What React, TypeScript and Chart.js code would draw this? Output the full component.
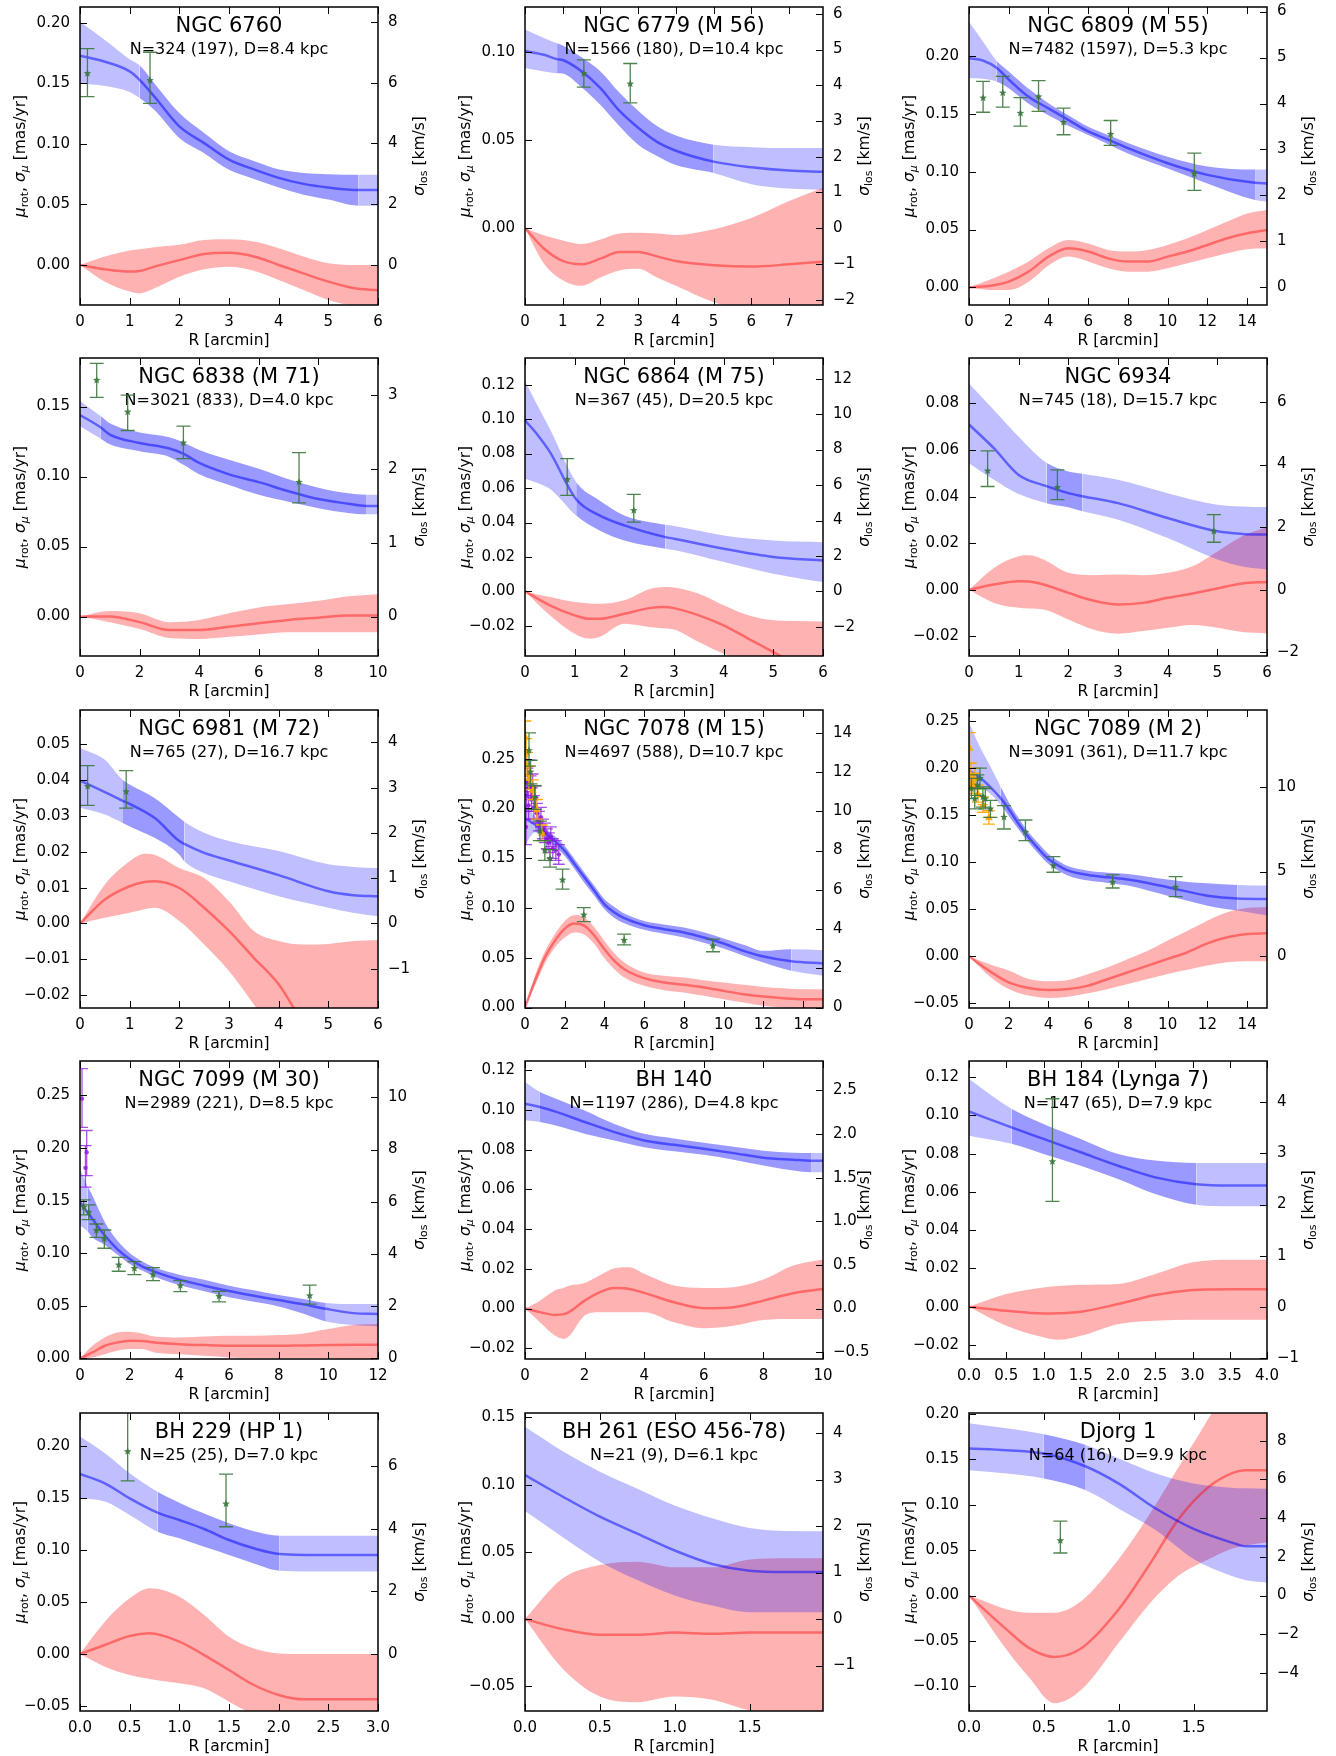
import React, { useEffect, useRef } from 'react';
import { Chart, registerables } from 'chart.js';

Chart.register(...registerables);

const FONT = '"DejaVu Sans", sans-serif';
// km/s per (mas/yr * kpc)
const K_PM = 4.74047;

// ---- velocity dispersion sigma_mu: [R, lower, median, upper] (mas/yr)
// ---- rotation mu_rot:               [R, lower, median, upper] (mas/yr)
// ---- line-of-sight dispersion:      [R, sigma_los, low, high] (km/s)

const sig6760 = [
  [0, 0.150, 0.173, 0.201], [0.5, 0.148, 0.168, 0.186], [1.0, 0.143, 0.160, 0.170],
  [1.2, 0.138, 0.153, 0.165], [1.5, 0.128, 0.139, 0.150], [2.0, 0.105, 0.1145, 0.1255],
  [2.5, 0.0924, 0.1007, 0.109], [3.0, 0.0786, 0.087, 0.094], [3.5, 0.071, 0.079, 0.086],
  [4.0, 0.064, 0.072, 0.079], [4.5, 0.058, 0.067, 0.076], [5.0, 0.054, 0.064, 0.075],
  [5.6, 0.049, 0.062, 0.0745], [6.0, 0.049, 0.062, 0.0745],
];
const rot6760 = [
  [0, 0, 0, 0], [0.5, -0.0138, -0.0036, 0.007], [1.0, -0.022, -0.0055, 0.012],
  [1.2, -0.0235, -0.005, 0.013], [1.5, -0.0193, -0.0014, 0.0146], [2.0, -0.0097, 0.004, 0.0166],
  [2.5, -0.0036, 0.009, 0.0207], [3.0, -0.0014, 0.010, 0.0212], [3.5, -0.0047, 0.007, 0.0193],
  [4.0, -0.0124, 0.0, 0.0138], [4.5, -0.0207, -0.007, 0.007], [5.0, -0.029, -0.0138, 0.0014],
  [5.5, -0.034, -0.019, 0.0], [6.0, -0.037, -0.021, 0.0],
];
const los6760 = [[0.15, 6.3, 5.54, 7.12], [1.41, 6.07, 5.32, 7.0]];

const sig6779 = [
  [0, 0.091, 0.1006, 0.1128], [0.5, 0.089, 0.0985, 0.108], [0.85, 0.088, 0.096, 0.105],
  [1.0, 0.0878, 0.0955, 0.1038], [1.5, 0.080, 0.0891, 0.097], [2.0, 0.0699, 0.0795, 0.089],
  [2.5, 0.058, 0.0667, 0.077], [3.0, 0.0474, 0.057, 0.0667], [3.5, 0.041, 0.049, 0.058],
  [4.0, 0.0359, 0.044, 0.0526], [5.0, 0.0314, 0.0378, 0.0474], [6.0, 0.025, 0.0346, 0.046],
  [7.0, 0.0225, 0.0327, 0.0455], [7.9, 0.0218, 0.032, 0.0455],
];
const rot6779 = [
  [0, 0, 0, 0], [0.5, -0.020, -0.0115, -0.004], [1.0, -0.0295, -0.0186, -0.007],
  [1.5, -0.0327, -0.0205, -0.009], [2.0, -0.028, -0.0173, -0.0064], [2.5, -0.024, -0.0135, -0.003],
  [3.0, -0.023, -0.0135, -0.0026], [3.5, -0.028, -0.016, -0.003], [4.0, -0.0327, -0.0186, -0.0038],
  [5.0, -0.042, -0.021, -0.0006], [6.0, -0.047, -0.0218, 0.0058], [7.0, -0.050, -0.0205, 0.0154],
  [7.9, -0.053, -0.019, 0.023],
];
const los6779 = [[1.56, 4.33, 3.95, 4.71], [2.79, 4.04, 3.51, 4.61]];

const sig6809 = [
  [0, 0.181, 0.1985, 0.230], [0.7, 0.1806, 0.1965, 0.213], [1.4, 0.178, 0.190, 0.196],
  [2, 0.1725, 0.180, 0.187], [3, 0.159, 0.165, 0.172], [4, 0.149, 0.155, 0.1595],
  [5, 0.140, 0.145, 0.149], [6, 0.132, 0.135, 0.139], [7, 0.124, 0.128, 0.132],
  [8, 0.116, 0.1205, 0.125], [10, 0.103, 0.1075, 0.113], [12, 0.090, 0.0974, 0.1046],
  [14.4, 0.0757, 0.0905, 0.102], [15, 0.0743, 0.090, 0.102],
];
const rot6809 = [
  [0, 0, 0, 0], [1, -0.0023, 0.0012, 0.0064], [2, -0.0023, 0.005, 0.0136],
  [3, 0.0049, 0.0136, 0.0223], [4, 0.019, 0.0266, 0.0338], [5, 0.0266, 0.0338, 0.041],
  [6, 0.0223, 0.031, 0.038], [7, 0.0165, 0.0251, 0.0324], [8, 0.0136, 0.0223, 0.031],
  [9, 0.0136, 0.0223, 0.0324], [10, 0.0165, 0.0266, 0.0367], [11, 0.0208, 0.031, 0.0425],
  [12, 0.0251, 0.0367, 0.0497], [13, 0.0295, 0.0425, 0.057], [14, 0.033, 0.0468, 0.064],
  [15, 0.0338, 0.0497, 0.067],
];
const los6809 = [
  [0.71, 4.12, 3.81, 4.48], [1.70, 4.23, 3.92, 4.59], [2.59, 3.79, 3.51, 4.13],
  [3.50, 4.15, 3.83, 4.50], [4.76, 3.59, 3.32, 3.90], [7.13, 3.33, 3.09, 3.63],
  [11.34, 2.47, 2.11, 2.92],
];

const sig6838 = [
  [0, 0.136, 0.144, 0.154], [0.7, 0.127, 0.135, 0.143], [1, 0.123, 0.130, 0.138],
  [2, 0.118, 0.124, 0.1315], [3, 0.114, 0.120, 0.128], [3.5, 0.108, 0.116, 0.124],
  [4, 0.1016, 0.1097, 0.119], [5, 0.094, 0.1016, 0.112], [6, 0.087, 0.096, 0.1056],
  [7, 0.082, 0.0895, 0.098], [8, 0.0774, 0.0839, 0.092], [9, 0.074, 0.0806, 0.088],
  [9.6, 0.073, 0.079, 0.087], [10, 0.073, 0.079, 0.087],
];
const rot6838 = [
  [0, 0, 0, 0], [1, -0.004, 0, 0.004], [2, -0.0089, -0.004, 0.0024],
  [3, -0.0153, -0.0097, -0.004], [4, -0.016, -0.0097, -0.0024], [5, -0.0145, -0.0073, 0.0024],
  [6, -0.0129, -0.0048, 0.0065], [7, -0.0113, -0.0024, 0.0089], [8, -0.0113, -0.0008, 0.0113],
  [9, -0.0113, 0.0008, 0.0145], [10, -0.0113, 0.0008, 0.016],
];
const los6838 = [[0.56, 3.2, 2.97, 3.43], [1.6, 2.77, 2.52, 3.0], [3.47, 2.35, 2.14, 2.58], [7.35, 1.82, 1.54, 2.22]];

const sig6864 = [
  [0, 0.0654, 0.0993, 0.122], [0.25, 0.063, 0.091, 0.108], [0.5, 0.0596, 0.081, 0.0944],
  [1.03, 0.0441, 0.0535, 0.0635], [1.5, 0.0354, 0.0441, 0.0528], [2, 0.0296, 0.0383, 0.0441],
  [2.83, 0.0248, 0.0315, 0.0387], [3, 0.024, 0.0306, 0.038], [4, 0.017, 0.0248, 0.0325],
  [5, 0.0103, 0.020, 0.0296], [6, 0.0054, 0.018, 0.0286],
];
const rot6864 = [
  [0, 0, 0, 0], [0.5, -0.0139, -0.0081, -0.0033], [1, -0.0246, -0.0139, -0.0062],
  [1.3, -0.0275, -0.0159, -0.007], [1.5, -0.0265, -0.0159, -0.0072], [2, -0.0188, -0.013, -0.0052],
  [2.5, -0.0207, -0.0097, 0.0012], [2.8, -0.0215, -0.0091, 0.0025], [3.0, -0.0221, -0.0097, 0.0023],
  [3.5, -0.0294, -0.0139, -0.0014], [4, -0.0362, -0.0197, -0.0081], [4.5, -0.041, -0.0275, -0.0139],
  [5, -0.045, -0.0352, -0.0168], [5.5, -0.05, -0.043, -0.0172], [6, -0.055, -0.05, -0.0174],
];
const los6864 = [[0.85, 6.32, 5.42, 7.49], [2.19, 4.57, 3.91, 5.47]];

const sig6934 = [
  [0, 0.0543, 0.071, 0.0886], [0.5, 0.0472, 0.0608, 0.0772], [1, 0.0411, 0.0493, 0.0657],
  [1.56, 0.0372, 0.0445, 0.0545], [2, 0.0354, 0.0415, 0.0508], [2.28, 0.0337, 0.0402, 0.0498],
  [3, 0.0301, 0.0372, 0.0472], [4, 0.0222, 0.0308, 0.0415], [5, 0.013, 0.0251, 0.0365],
  [5.5, 0.0100, 0.024, 0.0358], [6, 0.0087, 0.0237, 0.0355],
];
const rot6934 = [
  [0, 0, 0, 0], [0.5, -0.0056, 0.0023, 0.0094], [1, -0.0077, 0.0037, 0.0144],
  [1.2, -0.008, 0.0036, 0.0148], [1.5, -0.0084, 0.0023, 0.013], [2, -0.0127, -0.0013, 0.0073],
  [2.5, -0.017, -0.0046, 0.0063], [3, -0.0188, -0.0063, 0.0066], [3.5, -0.0177, -0.0056, 0.0063],
  [4, -0.0163, -0.0034, 0.0073], [4.5, -0.0151, -0.0016, 0.0101], [5, -0.0163, 0.0006, 0.0165],
  [5.5, -0.0181, 0.0027, 0.023], [6, -0.0187, 0.0034, 0.027],
];
const los6934 = [[0.375, 3.8, 3.30, 4.44], [1.78, 3.27, 2.88, 3.83], [4.93, 1.87, 1.52, 2.40]];

const sig6981 = [
  [0, 0.0323, 0.0399, 0.049], [0.5, 0.0304, 0.0367, 0.0457], [0.85, 0.0281, 0.0343, 0.0402],
  [1, 0.0271, 0.0334, 0.0388], [1.5, 0.0239, 0.0295, 0.035], [2, 0.0192, 0.023, 0.0295],
  [2.1, 0.0174, 0.0222, 0.0284], [2.5, 0.0141, 0.0197, 0.0253], [3, 0.0118, 0.0176, 0.023],
  [4, 0.0076, 0.0135, 0.0202], [5, 0.0044, 0.009, 0.0165], [5.5, 0.003, 0.0079, 0.0158],
  [6, 0.002, 0.0076, 0.0155],
];
const rot6981 = [
  [0, 0, 0, 0], [0.5, 0.0016, 0.0067, 0.0109], [1, 0.003, 0.0104, 0.0174],
  [1.3, 0.004, 0.0116, 0.0195], [1.5, 0.0044, 0.0118, 0.0192], [2, 0.0007, 0.0099, 0.0155],
  [2.5, -0.0059, 0.0044, 0.0127], [3, -0.0133, -0.0021, 0.0062], [3.5, -0.0226, -0.0096, -0.0021],
  [4, -0.032, -0.017, -0.0049], [4.5, -0.041, -0.028, -0.0059], [5, -0.05, -0.037, -0.0057],
  [5.5, -0.058, -0.045, -0.0049], [6, -0.065, -0.053, -0.0046],
];
const los6981 = [[0.154, 3.03, 2.61, 3.49], [0.93, 2.91, 2.55, 3.38]];

const sig7078 = [
  [0, 0.163, 0.19, 0.205], [0.5, 0.176, 0.184, 0.192], [1, 0.1707, 0.1757, 0.1807],
  [1.5, 0.162, 0.1673, 0.172], [2, 0.1523, 0.1573, 0.1623], [2.5, 0.139, 0.144, 0.149],
  [3, 0.1248, 0.1305, 0.1355], [3.5, 0.112, 0.117, 0.122], [4, 0.0987, 0.1037, 0.1088],
  [4.5, 0.090, 0.0954, 0.101], [5, 0.0847, 0.0897, 0.0944], [6, 0.078, 0.0827, 0.087],
  [7, 0.074, 0.0787, 0.0835], [8, 0.0703, 0.0753, 0.0803], [9, 0.065, 0.0703, 0.0755],
  [10, 0.0592, 0.0643, 0.0693], [11, 0.0520, 0.0569, 0.063], [12, 0.0452, 0.0512, 0.0569],
  [13.4, 0.0368, 0.0465, 0.0586], [15, 0.0318, 0.0442, 0.0576],
];
const rot7078 = [
  [0, 0, 0, 0], [0.5, 0.0218, 0.0268, 0.0318], [1, 0.0442, 0.0502, 0.0562],
  [1.5, 0.0602, 0.0669, 0.0736], [2, 0.0703, 0.0793, 0.087], [2.5, 0.0753, 0.0843, 0.093],
  [3, 0.073, 0.082, 0.0904], [3.5, 0.0636, 0.072, 0.0803], [4, 0.0495, 0.0586, 0.0669],
  [4.5, 0.0385, 0.0469, 0.0545], [5, 0.0301, 0.0385, 0.0452], [6, 0.0218, 0.0295, 0.0351],
  [7, 0.0174, 0.0251, 0.0318], [8, 0.0151, 0.0228, 0.0301], [9, 0.0117, 0.0201, 0.0274],
  [10, 0.0084, 0.0167, 0.0251], [11, 0.005, 0.0134, 0.0228], [12, 0.0017, 0.011, 0.0207],
  [13, 0.0, 0.0094, 0.0194], [14, -0.0017, 0.0084, 0.0184], [15, -0.0027, 0.0084, 0.0184],
];
const los7078 = [
  [0.2, 13.1, 12.3, 14.0], [0.28, 12.0, 11.4, 12.6], [0.49, 10.7, 10.1, 11.3],
  [0.75, 9.0, 8.5, 9.5], [1.0, 8.0, 7.5, 8.5], [1.26, 7.6, 7.15, 8.05],
  [1.89, 6.5, 6.03, 7.05], [2.96, 4.72, 4.38, 5.09], [4.99, 3.43, 3.19, 3.74],
  [9.46, 3.14, 2.84, 3.48],
];
// [R, sigma, low, high, R half-width]
const vio7078 = [
  [0.05, 9.2, 8.3, 10.1, 0.05], [0.08, 10.8, 10.0, 11.6, 0.08], [0.12, 11.5, 10.8, 12.2, 0.1],
  [0.18, 10.3, 9.6, 11.0, 0.1], [0.22, 11.9, 11.2, 12.6, 0.12], [0.28, 11.2, 10.6, 11.8, 0.12],
  [0.33, 10.6, 10.0, 11.2, 0.12], [0.38, 11.3, 10.7, 11.9, 0.12], [0.45, 10.2, 9.6, 10.8, 0.12],
  [0.52, 10.7, 10.1, 11.3, 0.12], [0.6, 9.9, 9.4, 10.4, 0.12], [0.7, 9.5, 9.0, 10.0, 0.12],
  [0.8, 9.7, 9.2, 10.2, 0.12], [0.9, 9.1, 8.6, 9.6, 0.12], [1.0, 8.9, 8.4, 9.4, 0.12],
  [1.1, 8.6, 8.1, 9.1, 0.12], [1.2, 8.4, 7.9, 8.9, 0.12], [1.3, 8.7, 8.2, 9.2, 0.12],
  [1.4, 8.1, 7.6, 8.6, 0.12], [1.55, 8.0, 7.5, 8.5, 0.12], [1.7, 7.8, 7.3, 8.3, 0.12],
];
const org7078 = [
  [0.02, 13.8, 13.0, 14.6, 0.02], [0.06, 13.0, 12.3, 13.7, 0.05], [0.1, 12.4, 11.8, 13.0, 0.08],
  [0.2, 11.7, 11.1, 12.3, 0.1], [0.4, 11.1, 10.6, 11.6, 0.12], [0.6, 10.1, 9.6, 10.6, 0.15],
  [0.85, 8.9, 8.5, 9.3, 0.15],
];

const sig7089 = [
  [0, 0.178, 0.1975, 0.249], [0.5, 0.180, 0.191, 0.225], [1.0, 0.174, 0.1816, 0.205],
  [1.6, 0.161, 0.168, 0.180], [2, 0.1496, 0.1567, 0.164], [2.5, 0.135, 0.1408, 0.147],
  [3, 0.1213, 0.1266, 0.1319], [3.5, 0.109, 0.1142, 0.12], [4, 0.0982, 0.1035, 0.1089],
  [4.5, 0.091, 0.0965, 0.1015], [5, 0.0858, 0.0911, 0.0957], [6, 0.0805, 0.0865, 0.0911],
  [7, 0.078, 0.084, 0.089], [8, 0.0752, 0.0816, 0.0876], [9, 0.070, 0.078, 0.0846],
  [10, 0.0645, 0.0734, 0.0816], [11, 0.059, 0.0688, 0.079], [12, 0.0539, 0.0645, 0.0777],
  [13.5, 0.0486, 0.0615, 0.0759], [15, 0.0433, 0.061, 0.0752],
];
const rot7089 = [
  [0, 0, 0, 0], [1, -0.0206, -0.0152, -0.0082], [2, -0.0348, -0.0277, -0.0152],
  [3, -0.0418, -0.0337, -0.0241], [4, -0.0443, -0.0358, -0.0266], [5, -0.0429, -0.0348, -0.0252],
  [6, -0.0394, -0.0312, -0.0188], [7, -0.0348, -0.0241, -0.0117], [8, -0.0294, -0.017, -0.0028],
  [9, -0.0241, -0.0099, 0.006], [10, -0.0188, -0.0028, 0.0167], [11, -0.0142, 0.0043, 0.0273],
  [12, -0.0099, 0.0138, 0.0379], [13, -0.0064, 0.0202, 0.0468], [14, -0.0053, 0.0238, 0.0514],
  [15, -0.0053, 0.0245, 0.0521],
];
const los7089 = [
  [0.12, 9.9, 9.3, 10.5], [0.29, 9.3, 8.7, 9.9], [0.42, 10.1, 9.5, 10.7],
  [0.55, 10.5, 9.9, 11.1], [0.7, 9.4, 8.8, 10.0], [0.82, 9.3, 8.7, 9.9],
  [1.08, 8.7, 8.2, 9.2], [1.76, 8.2, 7.51, 8.89], [2.84, 7.32, 6.82, 8.04],
  [4.25, 5.35, 4.96, 5.88], [7.23, 4.37, 4.03, 4.80], [10.4, 4.07, 3.52, 4.70],
];
const org7089 = [
  [0.03, 12.3, 11.4, 13.2, 0.03], [0.1, 10.7, 10.0, 11.4, 0.1], [0.2, 10.2, 9.6, 10.8, 0.15],
  [0.3, 10.5, 9.9, 11.1, 0.2], [0.45, 9.6, 9.1, 10.1, 0.2], [0.7, 8.95, 8.5, 9.4, 0.25],
  [1.0, 8.2, 7.8, 8.6, 0.3],
];

const sig7099 = [
  [0, 0.1263, 0.1485, 0.180], [0.3, 0.121, 0.139, 0.164], [0.5, 0.1152, 0.1326, 0.1548],
  [1, 0.1079, 0.1168, 0.1294], [1.5, 0.0987, 0.104, 0.112], [2, 0.0898, 0.0945, 0.1003],
  [2.5, 0.0835, 0.0876, 0.0925], [3, 0.078, 0.0825, 0.0866], [4, 0.0698, 0.0749, 0.0796],
  [5, 0.0638, 0.0692, 0.0749], [6, 0.0581, 0.0641, 0.0692], [7, 0.0538, 0.0596, 0.0648],
  [8, 0.0495, 0.0555, 0.0603], [9, 0.0425, 0.0514, 0.0565], [9.9, 0.0352, 0.0472, 0.0527],
  [11, 0.0317, 0.0431, 0.0517], [12, 0.0305, 0.0422, 0.0517],
];
const rot7099 = [
  [0, 0, 0, 0], [0.5, 0.001, 0.0057, 0.0121], [1, 0.0041, 0.0121, 0.02],
  [1.5, 0.0073, 0.0152, 0.0247], [2, 0.0089, 0.0168, 0.0254], [2.5, 0.0089, 0.0165, 0.0238],
  [3, 0.0057, 0.0152, 0.0209], [4, 0.0041, 0.0136, 0.02], [5, 0.0025, 0.0127, 0.0209],
  [6, 0.001, 0.0121, 0.0216], [7, 0.0003, 0.0121, 0.0216], [8, 0.0003, 0.0121, 0.0222],
  [9, 0.0003, 0.0124, 0.0238], [10, 0.0, 0.0127, 0.0279], [11, -0.0005, 0.013, 0.0317],
  [12, -0.0005, 0.013, 0.0327],
];
const los7099 = [
  [0.15, 5.79, 5.5, 6.07], [0.35, 5.6, 5.32, 5.88], [0.66, 4.9, 4.64, 5.15],
  [0.98, 4.58, 4.22, 4.92], [1.56, 3.58, 3.34, 3.87], [2.19, 3.45, 3.21, 3.71],
  [2.94, 3.21, 2.98, 3.48], [4.04, 2.79, 2.56, 2.98], [5.6, 2.38, 2.17, 2.57],
  [9.25, 2.40, 2.08, 2.81],
];
const vio7099 = [[0.08, 9.95, 8.85, 11.1, 0], [0.22, 7.3, 6.56, 8.15, 0], [0.27, 7.9, 7.0, 8.73, 0]];

const sigBH140 = [
  [0, 0.0948, 0.1032, 0.1141], [0.5, 0.094, 0.1015, 0.1091], [1, 0.0923, 0.0993, 0.106],
  [2, 0.0881, 0.094, 0.0998], [3, 0.0847, 0.0889, 0.093], [4, 0.0813, 0.0847, 0.088],
  [5, 0.0792, 0.0825, 0.0857], [6, 0.0775, 0.0805, 0.0835], [7, 0.075, 0.0783, 0.0815],
  [8, 0.0721, 0.076, 0.0795], [9, 0.0696, 0.075, 0.0785], [9.6, 0.0687, 0.0745, 0.0783],
  [10, 0.0687, 0.0745, 0.0783],
];
const rotBH140 = [
  [0, 0, 0, 0], [0.5, -0.0069, -0.0018, 0.004], [1, -0.0136, -0.0032, 0.0091],
  [1.3, -0.0153, -0.0028, 0.0105], [1.5, -0.0136, -0.0015, 0.0116], [2, -0.0035, 0.004, 0.0129],
  [2.5, -0.0018, 0.0082, 0.0166], [3, -0.0018, 0.0103, 0.0203], [3.5, -0.0018, 0.0099, 0.0208],
  [4, -0.0018, 0.0079, 0.0175], [5, -0.0069, 0.0032, 0.0116], [6, -0.0099, 0.0002, 0.0104],
  [7, -0.0086, 0.0007, 0.0108], [8, -0.0057, 0.004, 0.0146], [9, -0.0052, 0.0077, 0.0217],
  [10, -0.0052, 0.0099, 0.0247],
];

const sigBH184 = [
  [0, 0.0894, 0.102, 0.119], [0.57, 0.0851, 0.0937, 0.1034], [1, 0.0798, 0.0877, 0.0955],
  [1.5, 0.0737, 0.0807, 0.0877], [2, 0.0668, 0.0737, 0.0798], [2.5, 0.0589, 0.0676, 0.0764],
  [3.05, 0.0533, 0.064, 0.0751], [3.5, 0.0525, 0.0633, 0.0751], [4, 0.0525, 0.0633, 0.0751],
];
const rotBH184 = [
  [0, 0, 0, 0], [0.5, -0.0099, -0.0021, 0.0066], [1, -0.016, -0.0035, 0.0101],
  [1.2, -0.0173, -0.0034, 0.0108], [1.5, -0.0152, -0.0026, 0.0115], [2, -0.0091, 0.0014, 0.0119],
  [2.5, -0.0073, 0.0061, 0.0171], [3, -0.0068, 0.0087, 0.0232], [3.5, -0.0068, 0.0092, 0.0246],
  [4, -0.0068, 0.0092, 0.0246],
];
const losBH184 = [[1.12, 2.84, 2.06, 4.07]];

const sigBH229 = [
  [0, 0.1497, 0.1731, 0.209], [0.25, 0.1465, 0.1641, 0.193], [0.5, 0.1337, 0.1497, 0.1737],
  [0.78, 0.1176, 0.1360, 0.156], [1, 0.1112, 0.1288, 0.1455], [1.25, 0.103, 0.1202, 0.135],
  [1.5, 0.0952, 0.1096, 0.1256], [1.75, 0.087, 0.1016, 0.118], [2.01, 0.0801, 0.0962, 0.1138],
  [2.5, 0.0792, 0.0952, 0.1138], [3, 0.0792, 0.0952, 0.1138],
];
const rotBH229 = [
  [0, 0, 0, 0], [0.25, -0.0122, 0.0087, 0.0311], [0.5, -0.0202, 0.0173, 0.0535],
  [0.7, -0.024, 0.0199, 0.0631], [1, -0.0282, 0.0119, 0.0551], [1.25, -0.033, -0.001, 0.0375],
  [1.5, -0.0458, -0.0154, 0.0167], [1.75, -0.0587, -0.0298, 0.0054], [2, -0.07, -0.0394, 0.0006],
  [2.25, -0.075, -0.0436, 0.0], [2.5, -0.075, -0.0436, 0.0], [3, -0.075, -0.0436, 0.0],
];
const losBH229 = [[0.48, 6.46, 5.52, 8.0], [1.47, 4.79, 4.06, 5.74]];

const sigBH261 = [
  [0, 0.0803, 0.1071, 0.143], [0.25, 0.061, 0.0912, 0.125], [0.5, 0.0427, 0.0762, 0.1096],
  [0.75, 0.029, 0.0636, 0.097], [1, 0.0176, 0.051, 0.0845], [1.25, 0.010, 0.041, 0.075],
  [1.5, 0.005, 0.036, 0.0678], [1.75, 0.005, 0.0351, 0.0655], [1.99, 0.005, 0.0351, 0.0653],
];
const rotBH261 = [
  [0, 0, 0, 0], [0.25, -0.0368, -0.0075, 0.0301], [0.5, -0.0577, -0.0117, 0.0402],
  [0.75, -0.0619, -0.0117, 0.0427], [1, -0.0577, -0.01, 0.0385], [1.25, -0.060, -0.011, 0.0385],
  [1.5, -0.0678, -0.010, 0.0444], [1.75, -0.070, -0.010, 0.0452], [1.99, -0.070, -0.010, 0.0452],
];

const sigDjorg1 = [
  [0, 0.1379, 0.1619, 0.1895], [0.25, 0.1342, 0.160, 0.184], [0.5, 0.1287, 0.1563, 0.1774],
  [0.78, 0.1158, 0.142, 0.1656], [1, 0.0955, 0.1232, 0.1508], [1.25, 0.0715, 0.0955, 0.1342],
  [1.5, 0.0402, 0.0734, 0.1232], [1.75, 0.0218, 0.0586, 0.1187], [1.85, 0.017, 0.0542, 0.118],
  [1.99, 0.0144, 0.0542, 0.1176],
];
const rotDjorg1 = [
  [0, 0, 0, 0], [0.1, -0.024, -0.0151, -0.006], [0.25, -0.0594, -0.0372, -0.0151],
  [0.4, -0.09, -0.0575, -0.019], [0.57, -0.1184, -0.0675, -0.0188], [0.75, -0.1036, -0.058, -0.0059],
  [1, -0.052, -0.0151, 0.0402], [1.2, -0.01, 0.0328, 0.0881], [1.4, 0.022, 0.0844, 0.1416],
  [1.6, 0.040, 0.1195, 0.195], [1.75, 0.0513, 0.1342, 0.24], [1.85, 0.055, 0.1379, 0.255],
  [1.99, 0.0586, 0.1379, 0.26],
];
const losDjorg1 = [[0.61, 2.84, 2.2, 3.84]];

type ErrSet = { rows: number[][]; kind: 'star' | 'tri' | 'dot' };
type Panel = {
  title: string; n: number; nIn: number; dist: number;
  xMax: number; xStep: number; xDec: number;
  yMin: number; yMax: number; yStep: number;
  kStep: number; kDec: number;
  dark: number[] | null;
  sigma: number[][]; rot: number[][]; err: ErrSet[];
};

const star = (rows: number[][]): ErrSet => ({ rows, kind: 'star' });

const PANELS: Panel[] = [
  { title: 'NGC 6760', n: 324, nIn: 197, dist: 8.4, xMax: 6, xStep: 1, xDec: 0, yMin: -0.0331, yMax: 0.2132, yStep: 0.05, kStep: 2, kDec: 0, dark: [1.2, 5.6], sigma: sig6760, rot: rot6760, err: [star(los6760)] },
  { title: 'NGC 6779 (M 56)', n: 1566, nIn: 180, dist: 10.4, xMax: 7.9, xStep: 1, xDec: 0, yMin: -0.0436, yMax: 0.1256, yStep: 0.05, kStep: 1, kDec: 0, dark: [0.85, 5.0], sigma: sig6779, rot: rot6779, err: [star(los6779)] },
  { title: 'NGC 6809 (M 55)', n: 7482, nIn: 1597, dist: 5.3, xMax: 15, xStep: 2, xDec: 0, yMin: -0.0153, yMax: 0.2428, yStep: 0.05, kStep: 1, kDec: 0, dark: [1.4, 14.4], sigma: sig6809, rot: rot6809, err: [star(los6809)] },
  { title: 'NGC 6838 (M 71)', n: 3021, nIn: 833, dist: 4.0, xMax: 10, xStep: 2, xDec: 0, yMin: -0.0282, yMax: 0.1847, yStep: 0.05, kStep: 1, kDec: 0, dark: [0.7, 9.6], sigma: sig6838, rot: rot6838, err: [star(los6838)] },
  { title: 'NGC 6864 (M 75)', n: 367, nIn: 45, dist: 20.5, xMax: 6, xStep: 1, xDec: 0, yMin: -0.0375, yMax: 0.1355, yStep: 0.02, kStep: 2, kDec: 0, dark: [1.03, 2.83], sigma: sig6864, rot: rot6864, err: [star(los6864)] },
  { title: 'NGC 6934', n: 745, nIn: 18, dist: 15.7, xMax: 6, xStep: 1, xDec: 0, yMin: -0.0284, yMax: 0.0995, yStep: 0.02, kStep: 2, kDec: 0, dark: [1.56, 2.28], sigma: sig6934, rot: rot6934, err: [star(los6934)] },
  { title: 'NGC 6981 (M 72)', n: 765, nIn: 27, dist: 16.7, xMax: 6, xStep: 1, xDec: 0, yMin: -0.0236, yMax: 0.0596, yStep: 0.01, kStep: 1, kDec: 0, dark: [0.85, 2.1], sigma: sig6981, rot: rot6981, err: [star(los6981)] },
  { title: 'NGC 7078 (M 15)', n: 4697, nIn: 588, dist: 10.7, xMax: 15, xStep: 2, xDec: 0, yMin: -0.0005, yMax: 0.2989, yStep: 0.05, kStep: 2, kDec: 0, dark: [0.5, 13.4], sigma: sig7078, rot: rot7078, err: [{ rows: vio7078, kind: 'dot' }, { rows: org7078, kind: 'tri' }, star(los7078)] },
  { title: 'NGC 7089 (M 2)', n: 3091, nIn: 361, dist: 11.7, xMax: 15, xStep: 2, xDec: 0, yMin: -0.055, yMax: 0.262, yStep: 0.05, kStep: 5, kDec: 0, dark: [1.6, 13.5], sigma: sig7089, rot: rot7089, err: [{ rows: org7089, kind: 'tri' }, star(los7089)] },
  { title: 'NGC 7099 (M 30)', n: 2989, nIn: 221, dist: 8.5, xMax: 12, xStep: 2, xDec: 0, yMin: -0.0005, yMax: 0.2827, yStep: 0.05, kStep: 2, kDec: 0, dark: [0.3, 9.9], sigma: sig7099, rot: rot7099, err: [{ rows: vio7099, kind: 'dot' }, star(los7099)] },
  { title: 'BH 140', n: 1197, nIn: 286, dist: 4.8, xMax: 10, xStep: 2, xDec: 0, yMin: -0.0254, yMax: 0.1247, yStep: 0.02, kStep: 0.5, kDec: 1, dark: [0.5, 9.6], sigma: sigBH140, rot: rotBH140, err: [] },
  { title: 'BH 184 (Lynga 7)', n: 147, nIn: 65, dist: 7.9, xMax: 4, xStep: 0.5, xDec: 1, yMin: -0.0273, yMax: 0.1284, yStep: 0.02, kStep: 1, kDec: 0, dark: [0.57, 3.05], sigma: sigBH184, rot: rotBH184, err: [star(losBH184)] },
  { title: 'BH 229 (HP 1)', n: 25, nIn: 25, dist: 7.0, xMax: 3, xStep: 0.5, xDec: 1, yMin: -0.0548, yMax: 0.2317, yStep: 0.05, kStep: 2, kDec: 0, dark: [0.78, 2.01], sigma: sigBH229, rot: rotBH229, err: [star(losBH229)] },
  { title: 'BH 261 (ESO 456-78)', n: 21, nIn: 9, dist: 6.1, xMax: 1.99, xStep: 0.5, xDec: 1, yMin: -0.0684, yMax: 0.1533, yStep: 0.05, kStep: 1, kDec: 0, dark: null, sigma: sigBH261, rot: rotBH261, err: [] },
  { title: 'Djorg 1', n: 64, nIn: 16, dist: 9.9, xMax: 1.99, xStep: 0.5, xDec: 1, yMin: -0.127, yMax: 0.2009, yStep: 0.05, kStep: 2, kDec: 0, dark: [0.5, 0.78], sigma: sigDjorg1, rot: rotDjorg1, err: [star(losDjorg1)] },
];

// panel geometry (px)
const CANVAS_W = 445;
const CANVAS_H = 363;
const PAD_TOP = 19;
const AXIS_LEFT = 80;
const AXIS_RIGHT = 67;
const AXIS_BOTTOM = 46;
const COL_X = [0, 445, 889];
const ROW_PLOT_TOP = [7, 358, 710, 1061, 1413];

const BLUE_LIGHT = 'rgba(0,0,255,0.25)';
const BLUE_DARK = 'rgba(0,0,255,0.40)';
const RED_BAND = 'rgba(255,0,0,0.30)';
const BLUE_LINE = 'rgba(0,0,255,0.5)';
const RED_LINE = 'rgba(255,0,0,0.42)';
const ERR_COLORS = { star: 'rgba(60,120,60,0.9)', dot: 'rgba(140,20,220,0.75)', tri: 'rgba(255,165,0,0.95)' };

function fmt(v: number, d: number) {
  const r = Math.abs(v) < 1e-9 ? 0 : v;
  const s = Math.abs(r).toFixed(d);
  return r < 0 ? '\u2212' + s : s;
}

const pts = (rows: number[][], col: number) => rows.map((r) => ({ x: r[0], y: r[col] }));

function buildDatasets(p: Panel) {
  const base = {
    pointRadius: 0, borderWidth: 0, borderColor: 'rgba(0,0,0,0)', tension: 0.4,
    cubicInterpolationMode: 'monotone', xAxisID: 'x', yAxisID: 'y', clip: 0,
  };
  const inDark = (c: any) =>
    !!p.dark && c.p0.parsed.x >= p.dark[0] - 1e-9 && c.p1.parsed.x <= p.dark[1] + 1e-9;
  return [
    { ...base, data: pts(p.rot, 1), fill: false, order: 10 },
    { ...base, data: pts(p.rot, 3), fill: '-1', backgroundColor: RED_BAND, order: 10 },
    { ...base, data: pts(p.sigma, 1), fill: false, order: 9 },
    {
      ...base, data: pts(p.sigma, 3), fill: '-1', backgroundColor: BLUE_LIGHT, order: 9,
      segment: { backgroundColor: (c: any) => (inDark(c) ? BLUE_DARK : BLUE_LIGHT) },
    },
    { ...base, data: pts(p.rot, 2), fill: false, borderWidth: 2.5, borderColor: RED_LINE, order: 8 },
    { ...base, data: pts(p.sigma, 2), fill: false, borderWidth: 2.5, borderColor: BLUE_LINE, order: 7 },
  ];
}

type Part = { t: string; it?: boolean; sub?: boolean };

function drawVerticalLabel(ctx: CanvasRenderingContext2D, parts: Part[], x: number, y: number) {
  const size = 15.5;
  const fontOf = (p: Part) => `${p.it ? 'italic ' : ''}${p.sub ? 11 : size}px ${FONT}`;
  ctx.save();
  ctx.translate(x, y);
  ctx.rotate(-Math.PI / 2);
  ctx.fillStyle = '#000';
  ctx.textAlign = 'left';
  ctx.textBaseline = 'alphabetic';
  const widths = parts.map((p) => { ctx.font = fontOf(p); return ctx.measureText(p.t).width; });
  let cx = -widths.reduce((a, b) => a + b, 0) / 2;
  parts.forEach((p, i) => {
    ctx.font = fontOf(p);
    ctx.fillText(p.t, cx, p.sub ? 3 : 0);
    cx += widths[i];
  });
  ctx.restore();
}

function drawMarker(ctx: CanvasRenderingContext2D, kind: string, x: number, y: number) {
  ctx.beginPath();
  if (kind === 'star') {
    for (let i = 0; i < 10; i++) {
      const r = i % 2 === 0 ? 4 : 1.8;
      const a = -Math.PI / 2 + (i * Math.PI) / 5;
      ctx.lineTo(x + r * Math.cos(a), y + r * Math.sin(a));
    }
  } else if (kind === 'tri') {
    ctx.moveTo(x, y - 4);
    ctx.lineTo(x + 3.8, y + 3);
    ctx.lineTo(x - 3.8, y + 3);
  } else {
    ctx.arc(x, y, 2.2, 0, Math.PI * 2);
  }
  ctx.closePath();
  ctx.fill();
}

function panelPlugin(p: Panel) {
  return {
    id: 'panelDecor',
    afterDatasetsDraw(chart: any) {
      const { ctx, chartArea: a } = chart;
      const xs = chart.scales.x;
      const ks = chart.scales.y2;
      const cx = (a.left + a.right) / 2;
      ctx.save();
      ctx.fillStyle = '#000';
      ctx.textAlign = 'center';
      ctx.textBaseline = 'alphabetic';
      ctx.font = `21px ${FONT}`;
      ctx.fillText(p.title, cx, a.top + 24.5);
      ctx.font = `16px ${FONT}`;
      ctx.fillText(`N=${p.n} (${p.nIn}), D=${p.dist.toFixed(1)} kpc`, cx, a.top + 47);
      ctx.restore();

      ctx.save();
      ctx.beginPath();
      ctx.rect(a.left, a.top, a.right - a.left, a.bottom - a.top);
      ctx.clip();
      for (const set of p.err) {
        const col = ERR_COLORS[set.kind];
        ctx.strokeStyle = col;
        ctx.fillStyle = col;
        ctx.lineWidth = 1.3;
        for (const r of set.rows) {
          const px = xs.getPixelForValue(r[0]);
          const py = ks.getPixelForValue(r[1]);
          const pLo = ks.getPixelForValue(r[2]);
          const pHi = ks.getPixelForValue(r[3]);
          const cap = set.kind === 'star' ? 7 : 6;
          ctx.beginPath();
          ctx.moveTo(px, pLo); ctx.lineTo(px, pHi);
          ctx.moveTo(px - cap, pLo); ctx.lineTo(px + cap, pLo);
          ctx.moveTo(px - cap, pHi); ctx.lineTo(px + cap, pHi);
          if (r.length > 4 && r[4] > 0) {
            const x0 = xs.getPixelForValue(Math.max(0, r[0] - r[4]));
            const x1 = xs.getPixelForValue(r[0] + r[4]);
            ctx.moveTo(x0, py); ctx.lineTo(x1, py);
          }
          ctx.stroke();
          drawMarker(ctx, set.kind, px, py);
        }
      }
      ctx.restore();
    },
    afterDraw(chart: any) {
      const { ctx, chartArea: a } = chart;
      const xs = chart.scales.x;
      const ys = chart.scales.y;
      const ks = chart.scales.y2;
      const TL = 7;
      ctx.save();
      ctx.strokeStyle = '#000';
      ctx.lineWidth = 1;
      ctx.beginPath();
      for (const t of xs.ticks) {
        const px = Math.round(xs.getPixelForValue(t.value)) + 0.5;
        ctx.moveTo(px, a.bottom); ctx.lineTo(px, a.bottom - TL);
        ctx.moveTo(px, a.top); ctx.lineTo(px, a.top + TL);
      }
      for (const t of ys.ticks) {
        const py = Math.round(ys.getPixelForValue(t.value)) + 0.5;
        ctx.moveTo(a.left, py); ctx.lineTo(a.left + TL, py);
      }
      for (const t of ks.ticks) {
        const py = Math.round(ks.getPixelForValue(t.value)) + 0.5;
        ctx.moveTo(a.right, py); ctx.lineTo(a.right - TL, py);
      }
      ctx.stroke();
      ctx.lineWidth = 1.5;
      ctx.strokeRect(a.left, a.top, a.right - a.left, a.bottom - a.top);
      ctx.restore();

      const cy = (a.top + a.bottom) / 2;
      drawVerticalLabel(ctx, [
        { t: '\u03bc', it: true }, { t: 'rot', sub: true }, { t: ', ' },
        { t: '\u03c3', it: true }, { t: '\u03bc', it: true, sub: true }, { t: ' [mas/yr]' },
      ], 25, cy);
      drawVerticalLabel(ctx, [
        { t: '\u03c3', it: true }, { t: 'los', sub: true }, { t: ' [km/s]' },
      ], a.right + 46, cy);
    },
  };
}

function tickFont() {
  return { family: FONT, size: 15 };
}

function PanelChart({ p, left, top }: { p: Panel; left: number; top: number }) {
  const ref = useRef<HTMLCanvasElement | null>(null);
  useEffect(() => {
    if (!ref.current) return;
    const k = K_PM * p.dist;
    const chart = new Chart(ref.current, {
      type: 'line',
      data: { datasets: buildDatasets(p) as any },
      options: {
        responsive: false,
        animation: false,
        events: [],
        layout: { padding: { top: PAD_TOP, left: 0, right: 0, bottom: 0 } },
        plugins: { legend: { display: false }, tooltip: { enabled: false }, title: { display: false } },
        scales: {
          x: {
            type: 'linear', position: 'bottom', min: 0, max: p.xMax,
            afterFit: (s: any) => { s.height = AXIS_BOTTOM; },
            grid: { display: false, drawTicks: false, tickLength: 0 },
            border: { display: false },
            ticks: {
              stepSize: p.xStep, includeBounds: false, autoSkip: false, maxRotation: 0,
              padding: 8, color: '#000', font: tickFont(),
              callback: (v: any) => fmt(Number(v), p.xDec),
            },
            title: {
              display: true, text: 'R [arcmin]', color: '#000',
              font: { family: FONT, size: 15.5 }, padding: { top: 0, bottom: 1 },
            },
          },
          y: {
            type: 'linear', position: 'left', min: p.yMin, max: p.yMax,
            afterFit: (s: any) => { s.width = AXIS_LEFT; },
            grid: { display: false, drawTicks: false, tickLength: 0 },
            border: { display: false },
            ticks: {
              stepSize: p.yStep, includeBounds: false, autoSkip: false,
              padding: 10, color: '#000', font: tickFont(),
              callback: (v: any) => fmt(Number(v), 2),
            },
          },
          y2: {
            type: 'linear', position: 'right', min: p.yMin * k, max: p.yMax * k,
            afterFit: (s: any) => { s.width = AXIS_RIGHT; },
            grid: { display: false, drawTicks: false, tickLength: 0 },
            border: { display: false },
            ticks: {
              stepSize: p.kStep, includeBounds: false, autoSkip: false,
              padding: 10, color: '#000', font: tickFont(),
              callback: (v: any) => fmt(Number(v), p.kDec),
            },
          },
        },
      } as any,
      plugins: [panelPlugin(p)],
    });
    return () => chart.destroy();
  }, [p]);
  return (
    <canvas
      ref={ref}
      width={CANVAS_W}
      height={CANVAS_H}
      style={{ position: 'absolute', left, top, width: CANVAS_W, height: CANVAS_H, display: 'block' }}
    />
  );
}

export default function App() {
  return (
    <div style={{ position: 'absolute', left: 0, top: 0, width: 1336, height: 1756, overflow: 'hidden', background: '#fff' }}>
      {PANELS.map((p, i) => (
        <PanelChart
          key={p.title}
          p={p}
          left={COL_X[i % 3]}
          top={ROW_PLOT_TOP[Math.floor(i / 3)] - PAD_TOP}
        />
      ))}
    </div>
  );
}
